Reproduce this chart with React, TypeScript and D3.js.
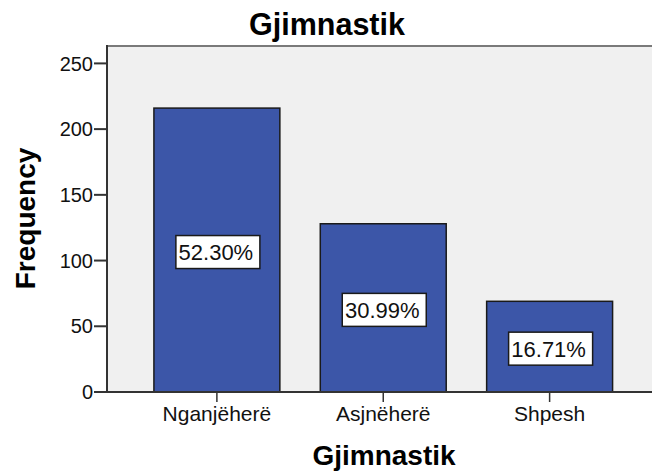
import React from 'react';
import * as d3 from 'd3';

const categories = ['Nganjëherë', 'Asjnëherë', 'Shpesh'];
const frequencies = [216, 128, 69];
const percentLabels = ['52.30%', '30.99%', '16.71%'];
const yTicks = [0, 50, 100, 150, 200, 250];
const chartTitle = 'Gjimnastik';
const xTitle = 'Gjimnastik';
const yTitle = 'Frequency';

const FONT = '"Liberation Sans", Arial, sans-serif';

export default function App() {
  const W = 652, H = 473;
  const left = 107, right = 659.5, top = 45, bottom = 392;
  const x = d3.scaleBand<string>().domain(categories).range([left, right]).paddingInner(0.243).paddingOuter(0.282);
  const y = d3.scaleLinear().domain([0, 264]).range([bottom, top]);
  const boxW = 84, boxH = 33;

  return (
    <svg width={W} height={H} style={{ position: 'absolute', left: 0, top: 0, background: '#fff' }} fontFamily={FONT}>
      <rect x={left} y={top} width={right - left} height={bottom - top} fill="#f0f0f0" />
      <line x1={left} x2={right} y1={top + 1} y2={top + 1} stroke="#7a7a7a" strokeWidth={2} />
      {categories.map((c, i) => {
        const bx = x(c)!;
        const bw = x.bandwidth();
        const by = y(frequencies[i]);
        const cx = bx + bw / 2;
        const cy = (by + bottom) / 2 + 2;
        return (
          <g key={c}>
            <rect x={bx} y={by} width={bw} height={bottom - by} fill="#3c56a8" stroke="#1a1a1a" strokeWidth={1.5} />
            <rect x={cx - boxW / 2 + 1} y={cy - boxH / 2} width={boxW} height={boxH} fill="#fff" stroke="#1a1a1a" strokeWidth={1.5} />
            <text x={cx - 1} y={cy + 8} fontSize={22} textAnchor="middle" fill="#111">{percentLabels[i]}</text>
            <line x1={cx} x2={cx} y1={bottom} y2={bottom + 10} stroke="#333" strokeWidth={1.5} />
            <text x={cx} y={421} fontSize={21} textAnchor="middle" fill="#111">{c}</text>
          </g>
        );
      })}
      <line x1={left} x2={left} y1={top} y2={bottom} stroke="#333" strokeWidth={2} />
      <line x1={left} x2={right} y1={bottom} y2={bottom} stroke="#333" strokeWidth={2} />
      {yTicks.map(t => (
        <g key={t}>
          <line x1={left - 13} x2={left} y1={y(t)} y2={y(t)} stroke="#333" strokeWidth={2} />
          <text x={left - 14} y={y(t)} dy="0.36em" fontSize={20} textAnchor="end" fill="#111">{t}</text>
        </g>
      ))}
      <text x={327} y={35} fontSize={30.5} fontWeight="bold" textAnchor="middle" fill="#000">{chartTitle}</text>
      <text x={384} y={465} fontSize={28} fontWeight="bold" textAnchor="middle" fill="#000">{xTitle}</text>
      <text transform={`translate(35, ${(top + bottom) / 2}) rotate(-90)`} fontSize={28} fontWeight="bold" textAnchor="middle" fill="#000">{yTitle}</text>
    </svg>
  );
}
